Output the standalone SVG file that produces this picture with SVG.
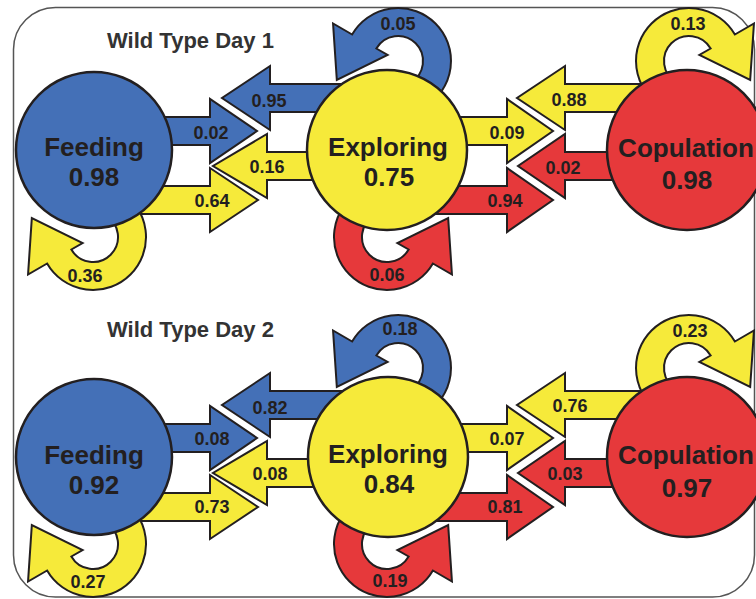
<svg xmlns="http://www.w3.org/2000/svg" width="756" height="599" viewBox="0 0 756 599">
<style>
.frame{fill:#fff;stroke:#555;stroke-width:1.5}
.title{font:bold 22px "Liberation Sans",Arial,sans-serif;fill:#333}
.ar{stroke:#231f20;stroke-width:2;stroke-linejoin:miter}
.b{fill:#4470b7}.y{fill:#f6ea3a}.r{fill:#e6393b}
.node{stroke:#231f20;stroke-width:2.5}
.nt{font:bold 26px "Liberation Sans",Arial,sans-serif;fill:#231f20;text-anchor:middle}
.lb{font:bold 18px "Liberation Sans",Arial,sans-serif;fill:#231f20;text-anchor:middle}
</style>
<defs>
<path id="loop" d="M 26.5 -45.9 A 53 53 0 1 1 -45.9 26.5 L -64.95 37.5 L -61.17 -18.95 L -10.39 6 L -21.65 12.5 A 25 25 0 1 0 12.5 -21.65 Z"/>
</defs>
<rect width="756" height="599" fill="#fff"/>
<rect class="frame" x="13.5" y="7.5" width="741" height="589.5" rx="42"/>

<g id="panel1">
<text class="title" x="107" y="48">Wild Type Day 1</text>
<g id="connectors1">
<path class="ar b" d="M 390 84 H 270 V 66 L 222 98 L 270 130 V 112 H 390 Z"/>
<path class="ar b" d="M 100 117 H 210 V 99 L 257 131 L 210 163 V 145 H 100 Z"/>
<path class="ar y" d="M 390 152 H 267 V 134 L 213 166 L 267 198 V 180 H 390 Z"/>
<path class="ar y" d="M 100 186 H 210 V 168 L 258 200 L 210 232 V 214 H 100 Z"/>
<path class="ar y" d="M 690 84 H 565 V 66 L 517 98 L 565 130 V 112 H 690 Z"/>
<path class="ar y" d="M 390 117 H 507 V 99 L 553 131 L 507 163 V 145 H 390 Z"/>
<path class="ar r" d="M 690 152 H 565 V 134 L 518 166 L 565 198 V 180 H 690 Z"/>
<path class="ar r" d="M 390 186 H 507 V 168 L 553 200 L 507 232 V 214 H 390 Z"/>
<use href="#loop" class="ar y" transform="translate(93,237)"/>
<use href="#loop" class="ar r" transform="translate(387,237) scale(-1,1)"/>
<use href="#loop" class="ar b" transform="translate(398,61) scale(1,-1)"/>
<use href="#loop" class="ar y" transform="translate(689,61) scale(-1,-1)"/>
</g>
<g id="nodes1">
<g id="feeding1"><circle class="node b" cx="94" cy="150" r="78"/><text class="nt" x="94" y="156">Feeding</text><text class="nt" x="94" y="186">0.98</text></g>
<g id="exploring1"><circle class="node y" cx="387" cy="150" r="80"/><text class="nt" x="388" y="156">Exploring</text><text class="nt" x="389" y="186">0.75</text></g>
<g id="copulation1"><circle class="node r" cx="687" cy="150" r="80"/><text class="nt" x="686" y="157">Copulation</text><text class="nt" x="687" y="189">0.98</text></g>
</g>
<g id="labels1">
<text class="lb" x="269" y="107">0.95</text>
<text class="lb" x="211" y="139">0.02</text>
<text class="lb" x="267" y="173">0.16</text>
<text class="lb" x="212" y="207">0.64</text>
<text class="lb" x="569" y="106">0.88</text>
<text class="lb" x="507" y="139">0.09</text>
<text class="lb" x="563" y="174">0.02</text>
<text class="lb" x="505" y="207">0.94</text>
<text class="lb" x="398" y="30">0.05</text>
<text class="lb" x="85" y="282">0.36</text>
<text class="lb" x="387" y="281">0.06</text>
<text class="lb" x="688" y="30">0.13</text>
</g>
</g>

<g id="panel2" transform="translate(0,307)">
<text class="title" x="107" y="30">Wild Type Day 2</text>
<g id="connectors2">
<path class="ar b" d="M 390 84 H 270 V 66 L 222 98 L 270 130 V 112 H 390 Z"/>
<path class="ar b" d="M 100 117 H 210 V 99 L 257 131 L 210 163 V 145 H 100 Z"/>
<path class="ar y" d="M 390 152 H 267 V 134 L 213 166 L 267 198 V 180 H 390 Z"/>
<path class="ar y" d="M 100 186 H 210 V 168 L 258 200 L 210 232 V 214 H 100 Z"/>
<path class="ar y" d="M 690 84 H 565 V 66 L 517 98 L 565 130 V 112 H 690 Z"/>
<path class="ar y" d="M 390 117 H 507 V 99 L 553 131 L 507 163 V 145 H 390 Z"/>
<path class="ar r" d="M 690 152 H 565 V 134 L 518 166 L 565 198 V 180 H 690 Z"/>
<path class="ar r" d="M 390 186 H 507 V 168 L 553 200 L 507 232 V 214 H 390 Z"/>
<use href="#loop" class="ar y" transform="translate(93,237)"/>
<use href="#loop" class="ar r" transform="translate(387,237) scale(-1,1)"/>
<use href="#loop" class="ar b" transform="translate(398,61) scale(1,-1)"/>
<use href="#loop" class="ar y" transform="translate(689,61) scale(-1,-1)"/>
</g>
<g id="nodes2">
<g id="feeding2"><circle class="node b" cx="94" cy="150" r="78"/><text class="nt" x="94" y="157">Feeding</text><text class="nt" x="94" y="187">0.92</text></g>
<g id="exploring2"><circle class="node y" cx="388" cy="150" r="80"/><text class="nt" x="388" y="156">Exploring</text><text class="nt" x="389" y="186">0.84</text></g>
<g id="copulation2"><circle class="node r" cx="687" cy="150" r="80"/><text class="nt" x="686" y="157">Copulation</text><text class="nt" x="687" y="190">0.97</text></g>
</g>
<g id="labels2">
<text class="lb" x="270" y="107">0.82</text>
<text class="lb" x="212" y="138">0.08</text>
<text class="lb" x="270" y="173">0.08</text>
<text class="lb" x="212" y="206">0.73</text>
<text class="lb" x="570" y="105">0.76</text>
<text class="lb" x="507" y="138">0.07</text>
<text class="lb" x="565" y="173">0.03</text>
<text class="lb" x="505" y="206">0.81</text>
<text class="lb" x="400" y="28">0.18</text>
<text class="lb" x="88" y="281">0.27</text>
<text class="lb" x="390" y="280">0.19</text>
<text class="lb" x="690" y="30">0.23</text>
</g>
</g>
</svg>
